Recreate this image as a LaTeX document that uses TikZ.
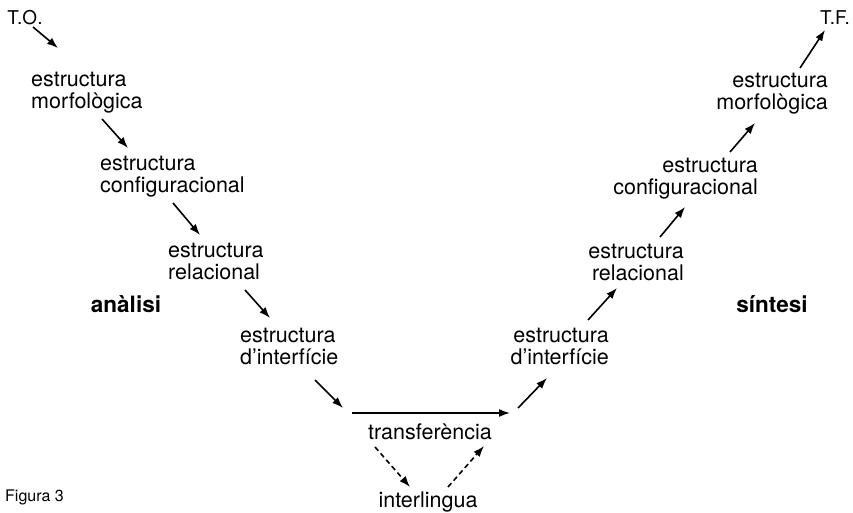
\documentclass[tikz,border=0pt]{standalone}
\usepackage{fontspec}
\setmainfont{TeX Gyre Heros}
\usetikzlibrary{arrows.meta,calc}

\begin{document}
\begin{tikzpicture}[x=1pt,y=-1pt,>={Latex[length=11pt,width=8pt]},
  every node/.style={inner sep=0pt,font=\fontsize{21.5}{22}\selectfont},
  lft/.style={align=left,anchor=west},
  rgt/.style={align=right,anchor=east},
  side/.style={font=\fontsize{22.5}{24}\selectfont\bfseries},
  arr/.style={->,line width=1.6pt},
  darr/.style={->,line width=1.6pt,dash pattern=on 5pt off 3.5pt}]
\useasboundingbox (0,0) rectangle (853,513);
% analisi (left branch)
\node[font=\fontsize{19}{20}\selectfont] (to) at (25,18) {T.O.};
\node[lft] (lm) at (31,93) {estructura\\morfològica};
\node[lft] (lc) at (100,177) {estructura\\configuracional};
\node[lft] (lr) at (168,261) {estructura\\relacional};
\node[lft] (li) at (240,346) {estructura\\d'interfície};
\node[side] (an) at (126,304) {anàlisi};
% transfer
\node (tr) at (430,432) {transferència};
\node (il) at (428,502) {interlingua};
% sintesi (right branch)
\node[rgt] (ri) at (609,346) {estructura\\d'interfície};
\node[rgt] (rr) at (684,262) {estructura\\relacional};
\node[rgt] (rc) at (758,179) {estructura\\configuracional};
\node[rgt] (rm) at (828,94) {estructura\\morfològica};
\node[font=\fontsize{19}{20}\selectfont] (tf) at (835,18) {T.F.};
\node[side] (si) at (772,304) {síntesi};
\node[font=\fontsize{16}{17}\selectfont,anchor=west] (fig) at (5,497) {Figura 3};
% arrows down
\draw[arr] ($(to)+(8,9)$) -- ($(lm.west)+(27,-45)$);
\draw[arr] ($(lm.west)+(71,26)$) -- ($(lc.west)+(28,-29)$);
\draw[arr] ($(lc.west)+(73,26)$) -- ($(lr.west)+(32,-26)$);
\draw[arr] ($(lr.west)+(77,29)$) -- ($(li.west)+(30,-28)$);
\draw[arr] ($(li.west)+(75,34)$) -- ($(tr)+(-87,-24)$);
\draw[arr] ($(tr)+(-78,-19)$) -- ($(tr)+(80,-19)$);
\draw[darr] ($(tr)+(-55,15)$) -- ($(il)+(-18,-15)$);
\draw[darr] ($(il)+(20,-15)$) -- ($(tr)+(54,14)$);
% arrows up
\draw[arr] ($(tr)+(88,-24)$) -- ($(ri.east)+(-62,32)$);
\draw[arr] ($(ri.east)+(-21,-26)$) -- ($(rr.east)+(-67,26)$);
\draw[arr] ($(rr.east)+(-24,-25)$) -- ($(rc.east)+(-73,28)$);
\draw[arr] ($(rc.east)+(-28,-27)$) -- ($(rm.east)+(-73,29)$);
\draw[arr] ($(rm.east)+(-28,-26)$) -- ($(tf)+(-10,12)$);
\end{tikzpicture}
\end{document}
